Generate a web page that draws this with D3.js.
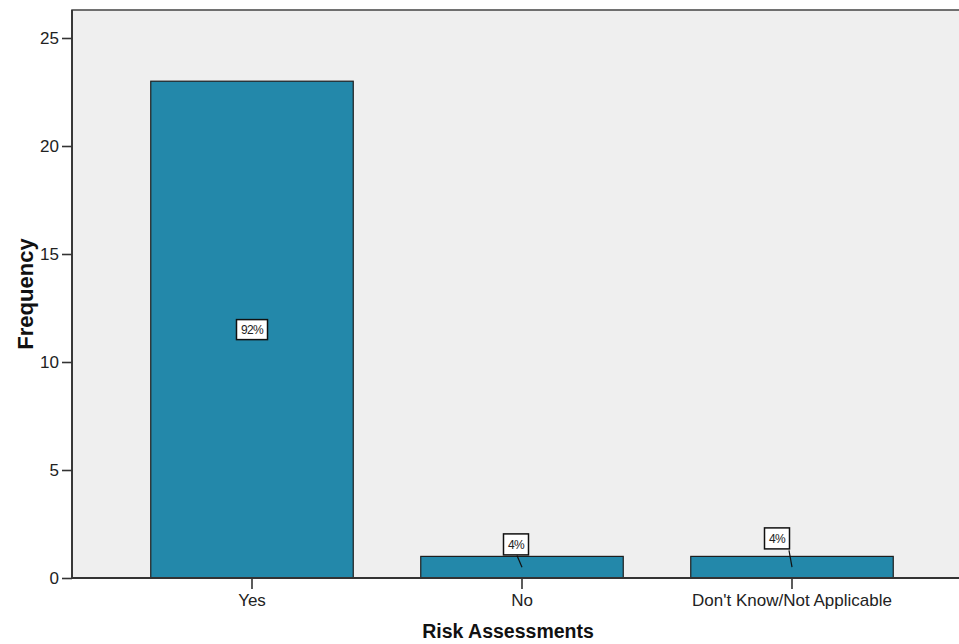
<!DOCTYPE html>
<html><head><meta charset="utf-8">
<script src="https://cdn.jsdelivr.net/npm/d3@7"></script>
<style>body{margin:0;background:#fff}svg{display:block}</style>
</head><body>
<script>
const categories = ["Yes", "No", "Don't Know/Not Applicable"];
const frequencies = [23, 1, 1];
const percentLabels = ["92%", "4%", "4%"];
const yTicks = [0, 5, 10, 15, 20, 25];

const W = 959, H = 644;
const mLeft = 72, mTop = 10, mBottom = 578, mRight = 962;
const svg = d3.select("body").append("svg").attr("width", W).attr("height", H)
  .style("font-family", "Arial, 'Liberation Sans', sans-serif");

const y = d3.scaleLinear().domain([0, 25]).range([mBottom, 38]);
const x = d3.scaleBand().domain(categories).range([117, 927]).paddingInner(0.25).paddingOuter(0.125);

// plot background
svg.append("rect").attr("x", mLeft).attr("y", mTop).attr("width", mRight - mLeft).attr("height", mBottom - mTop)
  .attr("fill", "#efefef").attr("stroke", "#444").attr("stroke-width", 1.5);

// bars
svg.selectAll(".bar").data(frequencies).join("rect")
  .attr("x", (d, i) => x(categories[i]))
  .attr("y", d => y(d))
  .attr("width", x.bandwidth())
  .attr("height", d => y(0) - y(d))
  .attr("fill", "#2388aa").attr("stroke", "#1e1e1e").attr("stroke-width", 1.2);

// axes
const yAxis = svg.append("g").attr("transform", `translate(${mLeft},0)`)
  .call(d3.axisLeft(y).tickValues(yTicks).tickSize(10).tickPadding(3));
const xAxis = svg.append("g").attr("transform", `translate(0,${mBottom})`)
  .call(d3.axisBottom(x).tickSize(11).tickPadding(5));
[yAxis, xAxis].forEach(g => {
  g.select(".domain").attr("stroke", "#333").attr("stroke-width", 1.8);
  g.selectAll(".tick line").attr("stroke", "#333").attr("stroke-width", 1.6);
  g.selectAll(".tick text").attr("fill", "#222").style("font-size", "17px").style("font-family", "Arial, 'Liberation Sans', sans-serif");
});
yAxis.select(".domain").attr("d", `M0,${mBottom}V${mTop}`);
xAxis.select(".domain").attr("d", `M${mLeft},0H${mRight}`);

// percentage labels
const labelPos = frequencies.map((d, i) => {
  const cx = x(categories[i]) + x.bandwidth() / 2;
  const mid = y(d / 2);
  if (i === 0) return {bx: cx, by: mid, lx1: null};
  if (i === 1) return {bx: cx - 6, by: y(d) - 12, lx1: cx - 5, ly1: y(d) - 1, lx2: cx, ly2: mid};
  return {bx: cx - 15, by: y(d) - 18, lx1: cx - 3, ly1: y(d) - 6, lx2: cx, ly2: mid};
});
labelPos.forEach((p, i) => {
  if (p.lx1 !== null) {
    svg.append("line").attr("x1", p.lx1).attr("y1", p.ly1).attr("x2", p.lx2).attr("y2", p.ly2)
      .attr("stroke", "#111").attr("stroke-width", 1.2);
  }
  const g = svg.append("g").attr("transform", `translate(${p.bx},${p.by})`);
  const bw = i === 0 ? 31 : 25, bh = i === 0 ? 20 : 21;
  g.append("rect").attr("x", -bw / 2).attr("y", -bh / 2).attr("width", bw).attr("height", bh)
    .attr("fill", "#fff").attr("stroke", "#111").attr("stroke-width", 1.5);
  g.append("text").attr("text-anchor", "middle").attr("dy", "0.35em")
    .style("font-size", "12px").attr("fill", "#222").style("letter-spacing", "-0.6px").text(percentLabels[i]);
});

// axis titles
svg.append("text").attr("transform", `translate(33,294) rotate(-90)`)
  .attr("text-anchor", "middle").style("font-size", "22px").style("font-weight", "bold").attr("fill", "#111")
  .text("Frequency");
svg.append("text").attr("x", 508).attr("y", 638).attr("text-anchor", "middle")
  .style("font-size", "19.5px").style("font-weight", "bold").attr("fill", "#111").text("Risk Assessments");
</script>
</body></html>
